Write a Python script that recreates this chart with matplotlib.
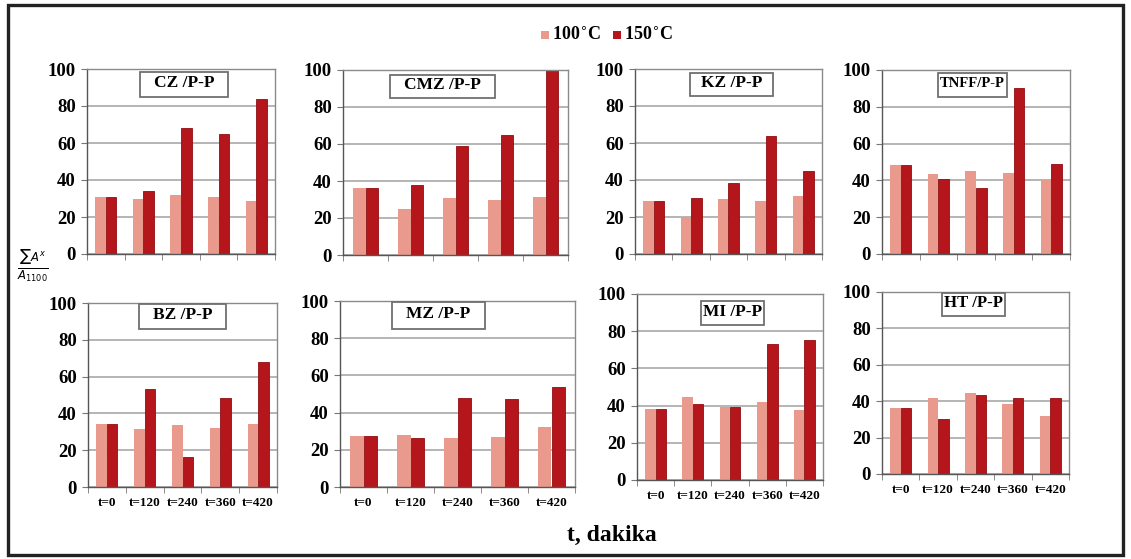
import matplotlib.pyplot as plt
import numpy as np
from matplotlib.patches import Rectangle

times = ['t=0', 't=120', 't=240', 't=360', 't=420']
panels = ['CZ /P-P', 'CMZ /P-P', 'KZ /P-P', 'TNFF/P-P',
          'BZ /P-P', 'MZ /P-P', 'MI /P-P', 'HT /P-P']

t100 = [
    [31, 30, 32, 31, 28.5],
    [36, 25, 31, 30, 31.5],
    [28.5, 20, 30, 28.5, 31.5],
    [48.5, 43.5, 45, 44, 40],
    [34.5, 31.5, 33.5, 32, 34],
    [27.5, 28, 26.5, 27, 32.5],
    [38, 44.5, 39.5, 42, 37.5],
    [36.5, 41.5, 44.5, 38.5, 32],
]
t150 = [
    [31, 34, 68, 65, 84],
    [36, 38, 59, 65, 100],
    [28.5, 30.5, 38.5, 64, 45],
    [48.5, 41, 36, 90, 49],
    [34.5, 53, 16.5, 48.5, 68],
    [27.5, 26.5, 48, 47.5, 54],
    [38, 41, 39, 73, 75.5],
    [36.5, 30, 43.5, 42, 41.5],
]

light = '#E99A8C'
dark = '#B5161B'
W, H = 1131, 559

# pixel boxes of each panel: left, top, right, bottom
boxes = [
    (87, 69, 275, 254), (343, 70, 568, 255), (635, 69, 822, 254), (882, 70, 1070, 254),
    (88, 303, 277, 487), (340, 301, 575, 487), (637, 294, 823, 480), (882, 292, 1069, 474),
]
# pixel boxes of the panel title frames
tboxes = [
    (140, 72, 228, 97), (390, 75, 495, 98), (690, 73, 773, 96), (938, 73, 1007, 97),
    (139, 304, 226, 329), (392, 302, 485, 329), (701, 301, 764, 325), (942, 293, 1005, 316),
]

serif = 'Liberation Serif'


def fig_rect(fig, l, t, r, b, **kw):
    p = Rectangle((l / W, 1 - b / H), (r - l) / W, (b - t) / H,
                  transform=fig.transFigure, **kw)
    fig.add_artist(p)
    return p


def main():
    fig = plt.figure(figsize=(W / 100, H / 100), dpi=100)
    fig_rect(fig, 8, 5, 1123, 555, fill=False, edgecolor='#222222', linewidth=2.4)
    renderer = fig.canvas.get_renderer()

    x = np.arange(len(times))
    bw = 0.28
    for i, (l, t, r, b) in enumerate(boxes):
        ax = fig.add_axes([l / W, 1 - b / H, (r - l) / W, (b - t) / H])
        ax.bar(x - bw / 2, t100[i], bw, color=light, zorder=2)
        ax.bar(x + bw / 2, t150[i], bw, color=dark, edgecolor='#8E0E12',
               linewidth=0.6, zorder=2)
        ax.set_xlim(-0.5, len(times) - 0.5)
        ax.set_ylim(0, 100)
        ax.set_yticks(range(0, 101, 20))
        ax.yaxis.grid(True, color='#A8A8A8', linewidth=1.2, zorder=0)
        ax.set_axisbelow(True)
        for s in ax.spines.values():
            s.set_color('#8A8A8A')
            s.set_linewidth(1.0)
        ax.spines['bottom'].set_color('#555555')
        ax.spines['left'].set_color('#555555')
        ax.set_xticks(x)
        ax.set_xticks(np.arange(-0.5, len(times)), minor=True)
        ax.tick_params(axis='x', which='major', length=0, pad=7)
        ax.tick_params(axis='x', which='minor', length=4, color='#777777')
        ax.tick_params(axis='y', length=4, color='#777777', pad=4)
        if i >= 4:
            ax.set_xticklabels(times, fontfamily=serif, fontweight='bold',
                               fontsize=9.5)
        else:
            ax.set_xticklabels([])
        for lab in ax.get_yticklabels():
            lab.set_fontfamily(serif)
            lab.set_fontweight('bold')
            lab.set_fontsize(13.5)

        bl, bt, br, bb = tboxes[i]
        fig_rect(fig, bl, bt, br, bb, facecolor='white', edgecolor='#707070',
                 linewidth=1.3, zorder=5)
        txt = fig.text((bl + br) / 2 / W, 1 - (bt + bb) / 2 / H + 0.002, panels[i],
                       ha='center', va='center', fontfamily=serif,
                       fontweight='bold', fontsize=12.5, zorder=6)
        # shrink the label if it would spill out of its frame
        tw = txt.get_window_extent(renderer).width
        if tw > (br - bl) - 4:
            txt.set_fontsize(12.5 * ((br - bl) - 4) / tw)

    # legend
    fig_rect(fig, 541, 31, 549, 39, facecolor=light, edgecolor='none')
    fig_rect(fig, 613, 31, 621, 39, facecolor=dark, edgecolor='none')
    fig.text(552 / W, 1 - 35 / H, '100$^{\\circ}$C', ha='left', va='center',
             fontfamily=serif, fontweight='bold', fontsize=13)
    fig.text(624 / W, 1 - 35 / H, '150$^{\\circ}$C', ha='left', va='center',
             fontfamily=serif, fontweight='bold', fontsize=13)

    fig.text(33 / W, 1 - 266 / H, r'$\frac{\sum A^{x}}{A_{1100}}$', ha='center',
             va='center', fontsize=12)
    fig.text(612 / W, 1 - 535 / H, 't, dakika', ha='center', va='center',
             fontfamily=serif, fontweight='bold', fontsize=17)

    fig.savefig('out.png', dpi=100)
    return 0


if __name__ == '__main__':
    main()
